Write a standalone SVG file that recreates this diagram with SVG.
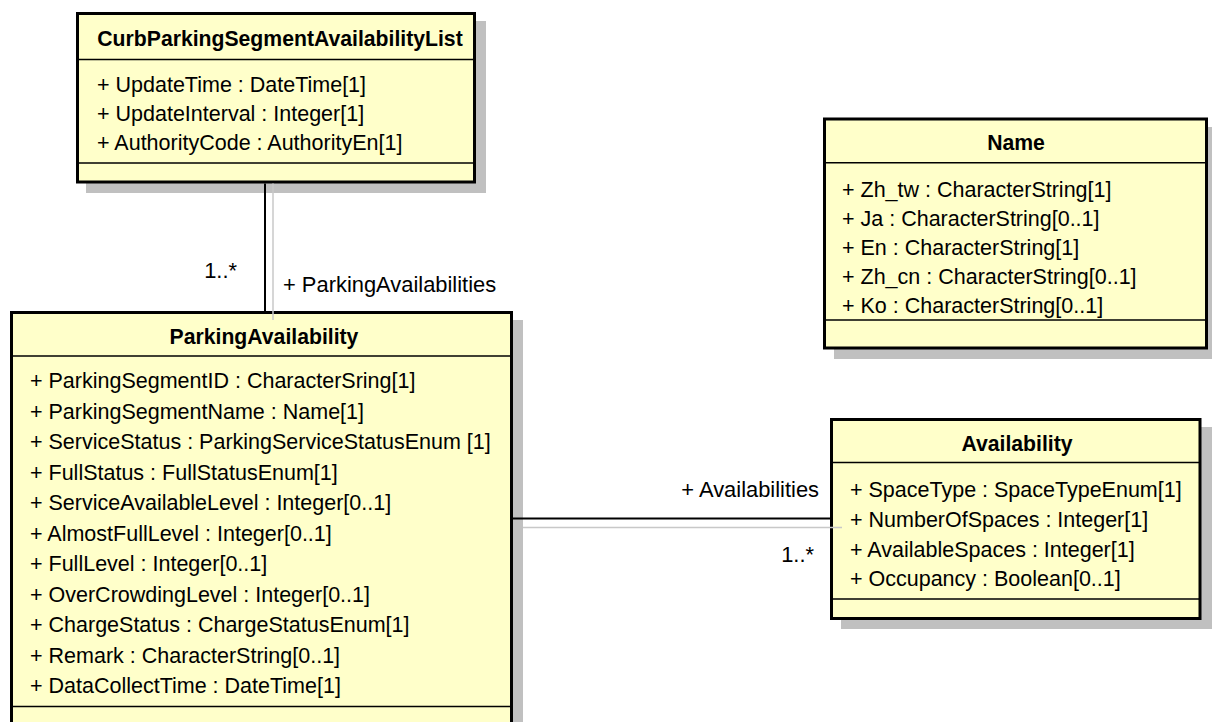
<svg xmlns="http://www.w3.org/2000/svg" width="1212" height="722" viewBox="0 0 1212 722">
<style>
.shadow{fill:#c0c0c0;stroke:none}
.box{fill:#ffffca;stroke:#000;stroke-width:3}
.div{stroke:#000;stroke-width:1.5}
.title{font-family:"Liberation Sans",Arial,sans-serif;font-weight:bold;font-size:21.2px;fill:#000;text-anchor:middle}
.attr{font-family:"Liberation Sans",Arial,sans-serif;font-size:21.5px;fill:#000}
.lbl{font-family:"Liberation Sans",Arial,sans-serif;font-size:21.9px;fill:#000}
.assoc{stroke:#000;stroke-width:2;fill:none}
.ghost{stroke:#c8c8c8;stroke-width:1.5;fill:none}
</style>
<rect width="1212" height="722" fill="#fff"/>

<g id="shadows">
<rect class="shadow" x="86" y="21" width="400" height="172"/>
<rect class="shadow" x="20" y="320" width="503" height="420"/>
<rect class="shadow" x="841" y="427" width="371" height="202"/>
<rect class="shadow" x="834" y="127" width="378" height="232"/>
</g>

<g id="node-CurbParkingSegmentAvailabilityList">
<rect class="box" x="77.5" y="13.5" width="397" height="168.5"/>
<line class="div" x1="77.5" y1="59.5" x2="474.5" y2="59.5"/>
<line class="div" x1="77.5" y1="163" x2="474.5" y2="163"/>
<text class="title" x="280" y="45.5">CurbParkingSegmentAvailabilityList</text>
<text class="attr" x="97" y="91.5">+ UpdateTime : DateTime[1]</text>
<text class="attr" x="97" y="120.8">+ UpdateInterval : Integer[1]</text>
<text class="attr" x="97" y="150">+ AuthorityCode : AuthorityEn[1]</text>
</g>

<g id="node-ParkingAvailability">
<rect class="box" x="11.5" y="312.5" width="500" height="430"/>
<line class="div" x1="11.5" y1="356" x2="511.5" y2="356"/>
<line class="div" x1="11.5" y1="706.5" x2="511.5" y2="706.5"/>
<text class="title" x="264" y="344.3">ParkingAvailability</text>
<text class="attr" x="30" y="388">+ ParkingSegmentID : CharacterSring[1]</text>
<text class="attr" x="30" y="418.5">+ ParkingSegmentName : Name[1]</text>
<text class="attr" x="30" y="449">+ ServiceStatus : ParkingServiceStatusEnum [1]</text>
<text class="attr" x="30" y="479.5">+ FullStatus : FullStatusEnum[1]</text>
<text class="attr" x="30" y="510">+ ServiceAvailableLevel : Integer[0..1]</text>
<text class="attr" x="30" y="540.5">+ AlmostFullLevel : Integer[0..1]</text>
<text class="attr" x="30" y="571">+ FullLevel : Integer[0..1]</text>
<text class="attr" x="30" y="601.5">+ OverCrowdingLevel : Integer[0..1]</text>
<text class="attr" x="30" y="632">+ ChargeStatus : ChargeStatusEnum[1]</text>
<text class="attr" x="30" y="662.5">+ Remark : CharacterString[0..1]</text>
<text class="attr" x="30" y="693">+ DataCollectTime : DateTime[1]</text>
</g>

<g id="node-Availability">
<rect class="box" x="831.5" y="419.5" width="368.5" height="199"/>
<line class="div" x1="831.5" y1="462.5" x2="1200" y2="462.5"/>
<line class="div" x1="831.5" y1="599" x2="1200" y2="599"/>
<text class="title" x="1017" y="450.7">Availability</text>
<text class="attr" x="850" y="497">+ SpaceType : SpaceTypeEnum[1]</text>
<text class="attr" x="850" y="527">+ NumberOfSpaces : Integer[1]</text>
<text class="attr" x="850" y="556.5">+ AvailableSpaces : Integer[1]</text>
<text class="attr" x="850" y="586">+ Occupancy : Boolean[0..1]</text>
</g>

<g id="node-Name">
<rect class="box" x="824.5" y="119" width="382" height="229"/>
<line class="div" x1="824.5" y1="162.7" x2="1206.5" y2="162.7"/>
<line class="div" x1="824.5" y1="320" x2="1206.5" y2="320"/>
<text class="title" x="1016" y="150">Name</text>
<text class="attr" x="842" y="196.5">+ Zh_tw : CharacterString[1]</text>
<text class="attr" x="842" y="225.7">+ Ja : CharacterString[0..1]</text>
<text class="attr" x="842" y="254.9">+ En : CharacterString[1]</text>
<text class="attr" x="842" y="284.1">+ Zh_cn : CharacterString[0..1]</text>
<text class="attr" x="842" y="313.3">+ Ko : CharacterString[0..1]</text>
</g>

<g id="connectors">
<line class="assoc" x1="265" y1="183.5" x2="265" y2="311"/>
<line class="ghost" x1="273" y1="183.5" x2="273" y2="320"/>
<line class="assoc" x1="513" y1="518.5" x2="830" y2="518.5"/>
<line class="ghost" x1="523" y1="527.5" x2="842" y2="527.5"/>
<text class="lbl" x="237" y="278" text-anchor="end">1..*</text>
<text class="lbl" x="283" y="291.7">+ ParkingAvailabilities</text>
<text class="lbl" x="819" y="497" text-anchor="end">+ Availabilities</text>
<text class="lbl" x="814" y="562" text-anchor="end">1..*</text>
</g>
</svg>
